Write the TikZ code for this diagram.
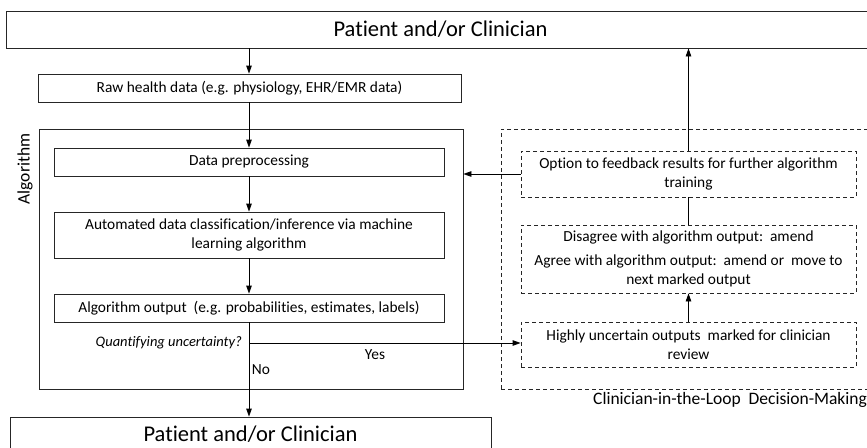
\documentclass[tikz,border=0pt]{standalone}
\usepackage{fontspec}
\setmainfont{Carlito}[RawFeature={-liga;-clig;-calt;-dlig}]
\usetikzlibrary{arrows.meta}
\begin{document}
\begin{tikzpicture}[x=1pt,y=-1pt,
  box/.style={draw=black!85,line width=0.8pt,rectangle,inner sep=0pt,align=center,
    font=\fontsize{15.4}{19}\selectfont},
  dbox/.style={box,dash pattern=on 4pt off 3pt},
  bigbox/.style={draw=black!85,line width=0.8pt,rectangle,inner sep=0pt,
    font=\fontsize{22.5}{27}\selectfont},
  conn/.style={line width=0.8pt,black},
  arr/.style={conn,-{Triangle[length=8pt,width=5.5pt]}},
  lbl/.style={inner sep=0pt,font=\fontsize{15.4}{19}\selectfont}]
\useasboundingbox (0,0) rectangle (867,447);
\clip (0,0) rectangle (867,447);
% containers
\node[draw=black!85,line width=0.8pt,inner sep=0pt,minimum width=424pt,minimum height=260pt] (alg) at (251,259) {};
\node[dbox,minimum width=379pt,minimum height=260pt] (cil) at (690.5,259) {};
% top / bottom
\node[bigbox,minimum width=869pt,minimum height=37pt] (top) at (440.5,29.5) {Patient and/or Clinician};
\node[bigbox,minimum width=481pt,minimum height=42pt] (bot) at (250.5,438) {};
\node[inner sep=0pt,font=\fontsize{22.5}{27}\selectfont] (bottxt) at (250.5,434) {Patient and/or Clinician};
% left column
\node[box,minimum width=423pt,minimum height=28pt] (raw) at (249.5,88) {Raw health data (e.g. physiology, EHR/EMR data)};
\node[box,minimum width=390pt,minimum height=28pt] (pre) at (249,162) {Data preprocessing};
\node[box,minimum width=390pt,minimum height=46pt] (auto) at (249,235) {Automated data classification/inference via machine\\learning algorithm};
\node[box,minimum width=390pt,minimum height=28pt] (out) at (249,308) {Algorithm output\ \ (e.g. probabilities, estimates, labels)};
% right column
\node[dbox,minimum width=335pt,minimum height=46pt] (fb) at (688.5,174) {Option to feedback results for further algorithm\\training};
\node[dbox,minimum width=335pt,minimum height=68pt] (dis) at (688.5,259) {Disagree with algorithm output:\ \ amend\\[5pt]Agree with algorithm output:\ \ amend or\ \ move to\\next marked output};
\node[dbox,minimum width=335pt,minimum height=45pt] (hi) at (688.5,344.5) {Highly uncertain outputs\ \ marked for clinician\\review};
% labels
\node[lbl,rotate=90,font=\fontsize{17.5}{21}\selectfont] (alglbl) at (25,169) {Algorithm};
\node[lbl,anchor=east,font=\itshape\fontsize{14.5}{19}\selectfont] (q) at (242,343) {Quantifying uncertainty?};
\node[lbl] (yes) at (375,355) {Yes};
\node[lbl] (no) at (261,370) {No};
\node[lbl,anchor=west,font=\fontsize{17.5}{21}\selectfont] (cillbl) at (593,400) {Clinician-in-the-Loop\ \ Decision-Making};
% connectors
\coordinate (br) at (249,343);
\draw[arr] (top.south -| pre.north) -- (raw.north -| pre.north);
\draw[arr] (raw.south -| pre.north) -- (pre.north);
\draw[arr] (pre) -- (auto);
\draw[arr] (auto) -- (out);
\draw[arr] (out.south) -- (bot.north -| out.south);
\draw[arr] (br) -- (hi.west |- br);
\draw[arr] (fb.north) -- (top.south -| fb.north);
\draw[arr] (fb.west) -- (alg.east |- fb.west);
\draw[conn] (dis.north) -- (fb.south);
\draw[arr] (hi.north) -- (dis.south);
\end{tikzpicture}
\end{document}
